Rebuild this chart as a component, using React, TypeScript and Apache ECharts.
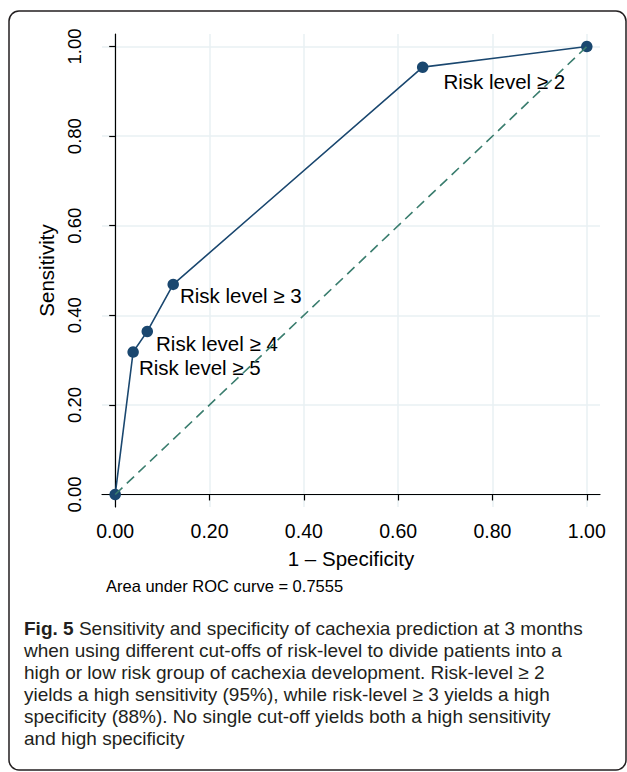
import React, { useEffect, useRef } from 'react';
import * as echarts from 'echarts';

// ---- data ----
const fpr = [0, 0.038, 0.068, 0.123, 0.652, 1];
const sensitivity = [0, 0.318, 0.364, 0.469, 0.954, 1];
const cutoffLabels = ['', 'Risk level ≥ 5', 'Risk level ≥ 4', 'Risk level ≥ 3', 'Risk level ≥ 2', ''];
const diagonalX = [0, 1];
const diagonalY = [0, 1];
const tickValues = [0, 0.2, 0.4, 0.6, 0.8, 1];
const xAxisTitle = '1 – Specificity';
const yAxisTitle = 'Sensitivity';
const aucNote = 'Area under ROC curve = 0.7555';
const captionTitle = 'Fig. 5';
const captionLines = [
  'Sensitivity and specificity of cachexia prediction at 3 months',
  'when using different cut-offs of risk-level to divide patients into a',
  'high or low risk group of cachexia development. Risk-level ≥ 2',
  'yields a high sensitivity (95%), while risk-level ≥ 3 yields a high',
  'specificity (88%). No single cut-off yields both a high sensitivity',
  'and high specificity',
];

// ---- presentation ----
const labelPlacement = [
  null,
  { distance: 0, dy: 15 },
  { distance: 3, dy: 12 },
  { distance: 1, dy: 11 },
  { distance: 15, dy: 14 },
  null,
];
const FONT = '"Liberation Sans", Arial, Helvetica, sans-serif';
const CAP_FONT = '"Liberation Sans", Arial, sans-serif';
const CAP_SIZE = 19;
const NAVY = '#1a476f';
const TEAL = '#3a7d6e';
const GRID = '#e9f0f3';
const AX_MIN = -0.028;
const AX_MAX = 1.028;

export default function App() {
  const ref = useRef<HTMLDivElement>(null);
  useEffect(() => {
    document.body.style.margin = '0';
    if (!ref.current) return;
    const chart = echarts.init(ref.current, undefined, { renderer: 'svg' });

    const rocData = fpr.map((x, i) => {
      const lp = labelPlacement[i];
      return {
        value: [x, sensitivity[i]],
        label: lp
          ? {
              show: true,
              formatter: cutoffLabels[i],
              position: 'right',
              distance: lp.distance,
              offset: [0, lp.dy],
              fontFamily: FONT,
              fontSize: 20.5,
              lineHeight: 20,
              color: '#000',
            }
          : { show: false },
      };
    });

    const axisCommon = {
      type: 'value',
      min: AX_MIN,
      max: AX_MAX,
      axisLine: { show: true, lineStyle: { color: '#000', width: 1.2 } },
      axisTick: { show: true, inside: false, length: 6, lineStyle: { color: '#000', width: 1.2 }, customValues: tickValues },
      splitLine: { show: true, lineStyle: { color: GRID, width: 1.5 } },
      nameLocation: 'middle',
      nameTextStyle: { fontFamily: FONT, fontSize: 20.5, color: '#000' },
    };

    const captionText = captionLines
      .map((line, i) => (i === 0 ? `{b|${captionTitle}} {r|${line}}` : `{r|${line}}`))
      .join('\n');

    chart.setOption({
      animation: false,
      backgroundColor: '#fff',
      grid: { left: 102, top: 34, width: 498, height: 473, containLabel: false },
      xAxis: {
        ...axisCommon,
        name: xAxisTitle,
        nameGap: 41,
        axisLabel: {
          customValues: tickValues,
          formatter: (v: number) => v.toFixed(2),
          fontFamily: FONT,
          fontSize: 19.5,
          color: '#000',
          margin: 14,
        },
      },
      yAxis: {
        ...axisCommon,
        name: yAxisTitle,
        nameGap: 45,
        axisLabel: {
          customValues: tickValues,
          formatter: (v: number) => v.toFixed(2),
          fontFamily: FONT,
          fontSize: 18.5,
          color: '#000',
          rotate: 90,
          margin: 18,
        },
      },
      series: [
        {
          type: 'line',
          data: rocData,
          symbol: 'circle',
          symbolSize: 11.5,
          itemStyle: { color: NAVY },
          lineStyle: { color: NAVY, width: 1.6 },
          z: 2,
        },
        {
          type: 'line',
          data: diagonalX.map((x, i) => [x, diagonalY[i]]),
          showSymbol: false,
          symbol: 'none',
          lineStyle: { color: TEAL, width: 1.6, type: [10, 6] },
          z: 3,
        },
      ],
      graphic: [
        {
          type: 'rect',
          shape: { x: 9, y: 11, width: 617, height: 759, r: 10 },
          style: { fill: 'none', stroke: '#231f20', lineWidth: 1.5 },
          silent: true,
        },
        {
          type: 'text',
          x: 106,
          y: 586,
          style: { text: aucNote, fontFamily: FONT, fontSize: 16.5, fill: '#000', verticalAlign: 'middle' },
        },
        {
          type: 'text',
          x: 24,
          y: 617,
          style: {
            text: captionText,
            fontFamily: CAP_FONT,
            fontSize: CAP_SIZE,
            lineHeight: 22,
            fill: '#231f20',
            verticalAlign: 'top',
            rich: {
              b: { fontFamily: CAP_FONT, fontSize: CAP_SIZE, lineHeight: 22, fontWeight: 'bold', fill: '#231f20' },
              r: { fontFamily: CAP_FONT, fontSize: CAP_SIZE, lineHeight: 22, fill: '#231f20' },
            },
          },
        },
      ],
    });
    return () => chart.dispose();
  }, []);
  return <div ref={ref} style={{ width: 627, height: 772 }} />;
}
